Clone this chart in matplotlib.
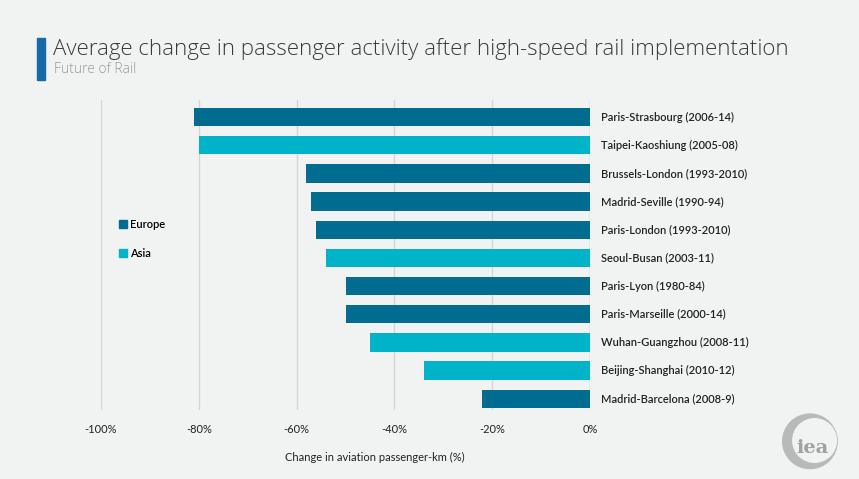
import matplotlib.pyplot as plt
from matplotlib.patches import Patch, Rectangle, Circle

routes = ['Paris-Strasbourg (2006-14)', 'Taipei-Kaoshiung (2005-08)', 'Brussels-London (1993-2010)',
          'Madrid-Seville (1990-94)', 'Paris-London (1993-2010)', 'Seoul-Busan (2003-11)',
          'Paris-Lyon (1980-84)', 'Paris-Marseille (2000-14)', 'Wuhan-Guangzhou (2008-11)',
          'Beijing-Shanghai (2010-12)', 'Madrid-Barcelona (2008-9)']
change = [-81, -80, -58, -57, -56, -54, -50, -50, -45, -34, -22]
region = ['Europe', 'Asia', 'Europe', 'Europe', 'Europe', 'Asia',
          'Europe', 'Europe', 'Asia', 'Asia', 'Europe']
ticks = [-100, -80, -60, -40, -20, 0]

colours = {'Europe': '#006d90', 'Asia': '#00b3c9'}
bg = '#f1f2f2'

plt.rcParams['font.family'] = ['Lato', 'DejaVu Sans']

fig = plt.figure(figsize=(8.59, 4.79), dpi=100, facecolor=bg)
ax = fig.add_axes([0.1176, 0.144, 0.5693, 0.647])
ax.set_facecolor(bg)

ypos = list(range(len(routes)))
ax.barh(ypos, change, height=0.65, color=[colours[r] for r in region], zorder=3)
ax.set_ylim(10.4, -0.6)
ax.set_xlim(-100, 0)

for y, name in zip(ypos, routes):
    ax.text(2.2, y, name, va='center', ha='left', fontsize=8, color='#222222',
            fontweight='semibold', clip_on=False)

ax.set_xticks(ticks)
ax.set_xticklabels(['-%d%%' % abs(t) if t else '0%' for t in ticks], fontsize=8, color='#222222')
ax.tick_params(axis='x', length=0, pad=10)
ax.set_yticks([])
for t in ticks:
    ax.axvline(t, color='#d4d6d6' if t else '#bdbfbf', lw=1, zorder=1)
for s in ax.spines.values():
    s.set_visible(False)
ax.set_xlabel('Change in aviation passenger-km (%)', fontsize=8, color='#222222')
ax.xaxis.set_label_coords(0.56, -0.135)

# legend on the left
handles = [Patch(color=colours['Europe'], label='Europe'), Patch(color=colours['Asia'], label='Asia')]
leg = fig.legend(handles=handles, loc='center left', bbox_to_anchor=(0.127, 0.501), frameon=False,
                 handlelength=0.7, handleheight=0.7, handletextpad=0.3, labelspacing=1.6,
                 prop={'size': 8, 'weight': 'semibold'})

# title block
fig.patches.append(Rectangle((0.043, 0.833), 0.0095, 0.088, transform=fig.transFigure,
                             color='#1769a8'))
fig.text(0.062, 0.897, 'Average change in passenger activity after high-speed rail implementation',
         fontsize=16, color='#3a3a3a', va='center', fontweight='light', family='Open Sans')
fig.text(0.063, 0.855, 'Future of Rail', fontsize=10, color='#9a9a9a', va='center',
         fontweight='light', family='Open Sans')

# iea mark: crescent ring with the letters over it
lax = fig.add_axes([0.908, 0.016, 0.0698, 0.1253])
lax.set_aspect('equal')
lax.set_xlim(-1.1, 1.1)
lax.set_ylim(-1.1, 1.1)
lax.axis('off')
lax.add_patch(Circle((0, 0), 1.0, color='#b8baba'))
lax.add_patch(Circle((0.17, 0.03), 0.8, color=bg))
lax.text(0.1, -0.25, 'iea', fontsize=14, color='#a0a2a2', fontweight='bold', ha='center',
         va='center', family='DejaVu Serif')

fig.savefig('out.png', dpi=100, facecolor=bg)
